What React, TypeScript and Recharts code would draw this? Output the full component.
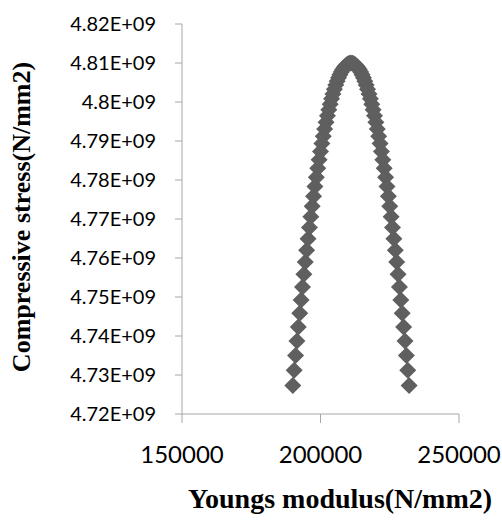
import { ScatterChart, Scatter, XAxis, YAxis } from "recharts";

// Youngs modulus (N/mm2) (step 500)
const modulus = [
  190000, 190500, 191000, 191500, 192000, 192500, 193000, 193500, 194000, 194500,
  195000, 195500, 196000, 196500, 197000, 197500, 198000, 198500, 199000, 199500,
  200000, 200500, 201000, 201500, 202000, 202500, 203000, 203500, 204000, 204500,
  205000, 205500, 206000, 206500, 207000, 207500, 208000, 208500, 209000, 209500,
  210000, 210500, 211000, 211500, 212000, 212500, 213000, 213500, 214000, 214500,
  215000, 215500, 216000, 216500, 217000, 217500, 218000, 218500, 219000, 219500,
  220000, 220500, 221000, 221500, 222000, 222500, 223000, 223500, 224000, 224500,
  225000, 225500, 226000, 226500, 227000, 227500, 228000, 228500, 229000, 229500,
  230000, 230500, 231000, 231500, 232000,
];

// Compressive stress (N/mm2), one per modulus value
const stress = [
  4.72731e9, 4.7312e9, 4.735e9, 4.7387e9, 4.74231e9, 4.74583e9, 4.74925e9, 4.75258e9, 4.75581e9, 4.75895e9,
  4.762e9, 4.76495e9, 4.76781e9, 4.77058e9, 4.77325e9, 4.77583e9, 4.77831e9, 4.7807e9, 4.783e9, 4.7852e9,
  4.78731e9, 4.78933e9, 4.79125e9, 4.79308e9, 4.79481e9, 4.79645e9, 4.798e9, 4.79945e9, 4.80081e9, 4.80208e9,
  4.80325e9, 4.80433e9, 4.80531e9, 4.8062e9, 4.807e9, 4.8077e9, 4.80831e9, 4.80883e9, 4.80925e9, 4.80958e9,
  4.80981e9, 4.80995e9, 4.81e9, 4.80995e9, 4.80981e9, 4.80958e9, 4.80925e9, 4.80883e9, 4.80831e9, 4.8077e9,
  4.807e9, 4.8062e9, 4.80531e9, 4.80433e9, 4.80325e9, 4.80208e9, 4.80081e9, 4.79945e9, 4.798e9, 4.79645e9,
  4.79481e9, 4.79308e9, 4.79125e9, 4.78933e9, 4.78731e9, 4.7852e9, 4.783e9, 4.7807e9, 4.77831e9, 4.77583e9,
  4.77325e9, 4.77058e9, 4.76781e9, 4.76495e9, 4.762e9, 4.75895e9, 4.75581e9, 4.75258e9, 4.74925e9, 4.74583e9,
  4.74231e9, 4.7387e9, 4.735e9, 4.7312e9, 4.72731e9,
];

const xTicks = [150000, 200000, 250000];
const yTicks = [4.72e9, 4.73e9, 4.74e9, 4.75e9, 4.76e9, 4.77e9, 4.78e9, 4.79e9, 4.8e9, 4.81e9, 4.82e9];

const points = modulus.map((x, i) => ({ x, y: stress[i] }));

const axisColor = "#a6a6a6";
const markerColor = "#5f5f5f";

const fmtE9 = (v: number) => `${parseFloat((v / 1e9).toFixed(2))}E+09`;

// Excel-style diamond marker
const Diamond = (props: any) => {
  const { cx, cy } = props;
  if (cx == null || cy == null) return null;
  const r = 8.5;
  return (
    <polygon
      points={`${cx},${cy - r} ${cx + r},${cy} ${cx},${cy + r} ${cx - r},${cy}`}
      fill={markerColor}
    />
  );
};

export default function App() {
  return (
    <div style={{ position: "absolute", left: 0, top: 0, width: 502, height: 520, background: "#fff" }}>
      <ScatterChart width={502} height={520} margin={{ top: 24, right: 43, bottom: 0, left: 0 }}>
        <XAxis
          type="number"
          dataKey="x"
          domain={[150000, 250000]}
          ticks={xTicks}
          interval={0}
          height={106}
          tickSize={9}
          tickMargin={23}
          stroke={axisColor}
          tick={{ fontSize: 24, fill: "#000", fontFamily: "Lato" }}
          label={{
            content: () => (
              <text
                x={340}
                y={508}
                textAnchor="middle"
                fontFamily="'Liberation Serif', serif"
                fontWeight={700}
                fontSize={28}
                fill="#000"
              >
                Youngs modulus(N/mm2)
              </text>
            ),
          }}
        />
        <YAxis
          type="number"
          dataKey="y"
          domain={[4.72e9, 4.82e9]}
          ticks={yTicks}
          interval={0}
          width={182}
          tickSize={7}
          tickMargin={19}
          stroke={axisColor}
          tickFormatter={fmtE9}
          tick={{ fontSize: 20, fill: "#000", fontFamily: "Lato" }}
          label={{
            content: () => (
              <text
                x={30}
                y={217}
                transform="rotate(-90, 30, 217)"
                textAnchor="middle"
                fontFamily="'Liberation Serif', serif"
                fontWeight={700}
                fontSize={26}
                fill="#000"
              >
                Compressive stress(N/mm2)
              </text>
            ),
          }}
        />
        <Scatter data={points} shape={Diamond} isAnimationActive={false} />
      </ScatterChart>
    </div>
  );
}
